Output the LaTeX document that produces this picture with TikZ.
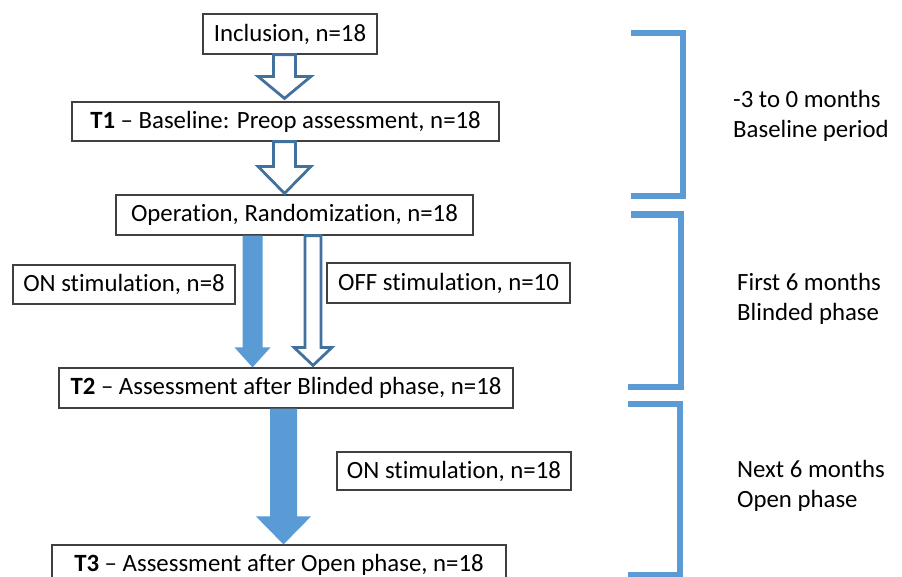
\documentclass[tikz,border=0pt]{standalone}
\usepackage{fontspec}
\setmainfont{Carlito}[Ligatures={NoCommon}]
\usetikzlibrary{calc}
\definecolor{fillblue}{HTML}{5B9BD5}
\definecolor{edgeblue}{HTML}{41719C}
\definecolor{boxline}{HTML}{404040}
\newcommand\blockarrow[7]{%
  \path[#1] let \p1=(#3), \p2=(#4) in
    ({(#2-#5)*1pt},\y1) -- ({(#2+#5)*1pt},\y1) -- ({(#2+#5)*1pt},{\y2+#7*1pt})
    -- ({(#2+#6)*1pt},{\y2+#7*1pt}) -- ({#2*1pt},\y2) -- ({(#2-#6)*1pt},{\y2+#7*1pt})
    -- ({(#2-#5)*1pt},{\y2+#7*1pt}) -- cycle;}
\begin{document}
\begin{tikzpicture}[x=1pt,y=-1pt, font=\fontsize{24.8}{30}\selectfont,
  box/.style={draw=boxline, line width=1.2pt, fill=white, inner sep=0pt, align=center},
  hollowarr/.style={draw=edgeblue, line width=2.8pt, fill=white, line join=miter},
  solidarr/.style={fill=fillblue, draw=none},
  bracketline/.style={draw=fillblue, line width=6.5pt, line join=miter},
  phase/.style={anchor=west, inner sep=0pt, align=left}]
\useasboundingbox (0,0) rectangle (902,576);
\fill[white] (0,0) rectangle (902,576);

\node[box, minimum width=174pt, minimum height=40pt] (inc) at (290,34) {Inclusion, n=18};
\node[box, minimum width=427pt, minimum height=39pt] (t1) at (285.5,121.5) {\textbf{T1} -- Baseline: Preop assessment, n=18};
\node[box, minimum width=357pt, minimum height=40pt] (op) at (294.5,215) {Operation, Randomization, n=18};
\node[box, minimum width=222pt, minimum height=39pt] (on8) at (124,284.5) {ON stimulation, n=8};
\node[box, minimum width=243pt, minimum height=40pt] (off) at (448.5,283) {OFF stimulation, n=10};
\node[box, minimum width=454pt, minimum height=40pt] (t2) at (286,388) {\textbf{T2} -- Assessment after Blinded phase, n=18};
\node[box, minimum width=234pt, minimum height=38pt] (on18) at (454,471) {ON stimulation, n=18};
\node[box, minimum width=454pt, minimum height=40pt] (t3) at (279,565) {\textbf{T3} -- Assessment after Open phase, n=18};

\blockarrow{hollowarr}{284.5}{inc.south}{$(t1.north)+(0,-3)$}{11}{26.5}{22}
\blockarrow{hollowarr}{284.5}{t1.south}{$(op.north)+(0,-1)$}{11}{26.5}{27}
\blockarrow{solidarr}{252.5}{op.south}{t2.north}{10}{18}{20}
\blockarrow{hollowarr}{313}{op.south}{$(t2.north)+(0,-2)$}{8}{19}{18}
\blockarrow{solidarr}{283.5}{t2.south}{t3.north}{13.5}{27.5}{28}

\draw[bracketline] (631,33) -- (683,33) -- (683,196) -- (631,196);
\draw[bracketline] (631,214.5) -- (681,214.5) -- (681,387) -- (628,387);
\draw[bracketline] (628,404) -- (680,404) -- (680,575) -- (628,575);

\node[phase] (p1) at (733,116) {-3 to 0 months\\Baseline period};
\node[phase] (p2) at (737,299) {First 6 months\\Blinded phase};
\node[phase] (p3) at (737,486) {Next 6 months\\Open phase};
\end{tikzpicture}
\end{document}
